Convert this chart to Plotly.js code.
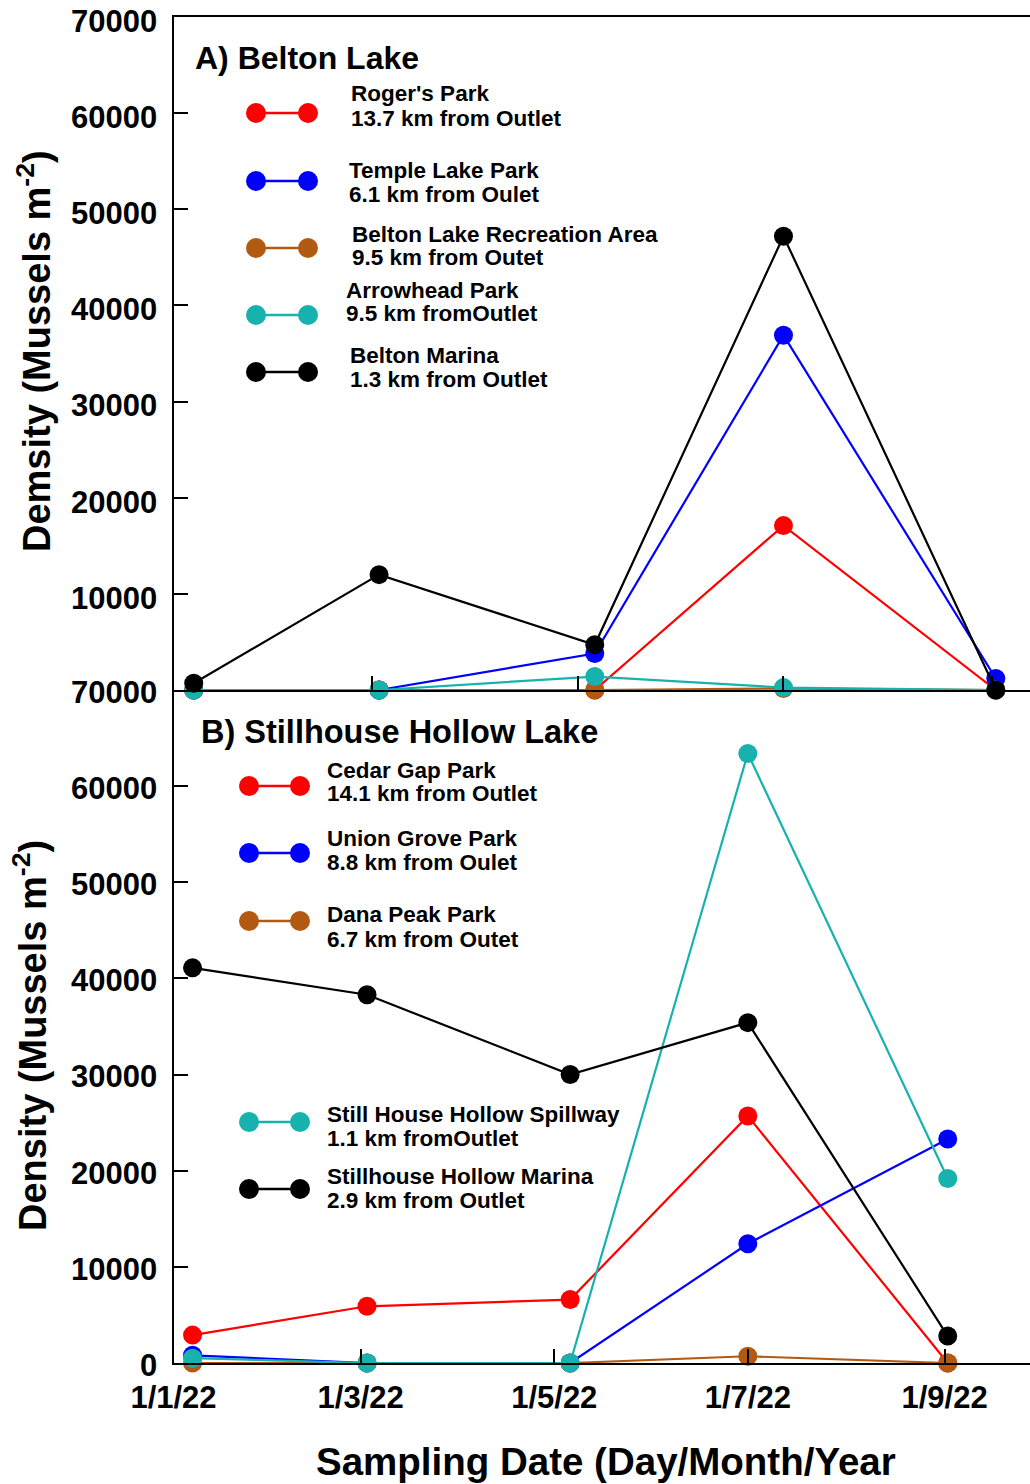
<!DOCTYPE html>
<html>
<head>
<meta charset="utf-8">
<script src="https://cdn.plot.ly/plotly-3.0.1.min.js"></script>
<style>html,body{margin:0;padding:0;background:#fff;}#chart{width:1030px;height:1484px;}</style>
</head>
<body>
<div id="chart"></div>
<script>
// ---------- data ----------
const sampleDates = ['2022-01-07', '2022-03-03', '2022-05-06', '2022-07-01', '2022-09-02'];
const tickDates = ['2022-01-01', '2022-03-01', '2022-05-01', '2022-07-01', '2022-09-01'];
const tickLabels = ['1/1/22', '1/3/22', '1/5/22', '1/7/22', '1/9/22'];
const densityTicks = [0, 10000, 20000, 30000, 40000, 50000, 60000, 70000];
const densityTicksTop = [10000, 20000, 30000, 40000, 50000, 60000, 70000];

// A) Belton Lake
const beltonSites = ["Roger's Park", 'Temple Lake Park', 'Belton Lake Recreation Area', 'Arrowhead Park', 'Belton Marina'];
const beltonDist = ['13.7 km from Outlet', '6.1 km from Oulet', '9.5 km from Outet', '9.5 km fromOutlet', '1.3 km from Outlet'];
const rogersPark = [0, 0, 0, 17100, 0];
const templeLakePark = [0, 0, 3800, 36900, 1200];
const beltonRecArea = [0, 0, 0, 150, 0];
const arrowheadPark = [0, 0, 1400, 250, 0];
const beltonMarina = [700, 12000, 4700, 47200, 0];

// B) Stillhouse Hollow Lake
const stillSites = ['Cedar Gap Park', 'Union Grove Park', 'Dana Peak Park', 'Still House Hollow Spillway', 'Stillhouse Hollow Marina'];
const stillDist = ['14.1 km from Outlet', '8.8 km from Oulet', '6.7 km from Outet', '1.1 km fromOutlet', '2.9 km from Outlet'];
const cedarGapPark = [2900, 5900, 6600, 25700, 0];
const unionGrovePark = [800, 0, 0, 12400, 23300];
const danaPeakPark = [0, 0, 0, 700, 0];
const spillway = [500, 0, 0, 63400, 19200];
const stillMarina = [41100, 38300, 30000, 35400, 2800];

const seriesColors = ['#ff0000', '#0000ff', '#b35a12', '#17b2ae', '#000000'];

// ---------- layout helpers ----------
const W = 1030, H = 1484;
const FONT = 'Liberation Sans, Arial, Helvetica, sans-serif';
const px = x => x / W;
const py = y => 1 - y / H;

const beltonSeries = [rogersPark, templeLakePark, beltonRecArea, arrowheadPark, beltonMarina];
const stillSeries = [cedarGapPark, unionGrovePark, danaPeakPark, spillway, stillMarina];

const traces = [];
beltonSeries.forEach((vals, i) => {
  traces.push({
    x: sampleDates, y: vals, xaxis: 'x2', yaxis: 'y2',
    type: 'scatter', mode: 'lines+markers', name: beltonSites[i],
    line: {color: seriesColors[i], width: 2.2},
    marker: {color: seriesColors[i], size: 19},
    cliponaxis: false, showlegend: false
  });
});
stillSeries.forEach((vals, i) => {
  traces.push({
    x: sampleDates, y: vals, xaxis: 'x', yaxis: 'y',
    type: 'scatter', mode: 'lines+markers', name: stillSites[i],
    line: {color: seriesColors[i], width: 2.2},
    marker: {color: seriesColors[i], size: 19},
    cliponaxis: false, showlegend: false
  });
});

// custom legend geometry (pixels): symbol y, text line1 y, line2 y, text x
const beltonLegendRows = [
  {sy: 113, t1: 94, t2: 118, tx: 349},
  {sy: 181, t1: 170, t2: 195, tx: 347},
  {sy: 248, t1: 234, t2: 258, tx: 350},
  {sy: 315, t1: 290, t2: 314, tx: 344},
  {sy: 372, t1: 355, t2: 379, tx: 348}
];
const stillLegendRows = [
  {sy: 786, t1: 770, t2: 793, tx: 325},
  {sy: 853, t1: 838, t2: 862, tx: 325},
  {sy: 921, t1: 915, t2: 939, tx: 325},
  {sy: 1122, t1: 1114, t2: 1138, tx: 325},
  {sy: 1189, t1: 1176, t2: 1200, tx: 325}
];

const shapes = [];
const annotations = [];
const legendFont = {size: 22.5, family: FONT, weight: 'bold', color: '#000'};
function legendEntry(row, color, name, dist, xa, xb) {
  shapes.push({type: 'line', xref: 'paper', yref: 'paper', x0: px(xa), x1: px(xb), y0: py(row.sy), y1: py(row.sy),
    line: {color: color, width: 2.5}});
  [xa, xb].forEach(xc => {
    shapes.push({type: 'circle', xref: 'paper', yref: 'paper', xsizemode: 'pixel', ysizemode: 'pixel',
      xanchor: px(xc), yanchor: py(row.sy), x0: -10, x1: 10, y0: -10, y1: 10,
      fillcolor: color, line: {width: 0}});
  });
  annotations.push({text: name, x: px(row.tx), y: py(row.t1), xref: 'paper', yref: 'paper',
    xanchor: 'left', yanchor: 'middle', showarrow: false, font: legendFont});
  annotations.push({text: dist, x: px(row.tx), y: py(row.t2), xref: 'paper', yref: 'paper',
    xanchor: 'left', yanchor: 'middle', showarrow: false, font: legendFont});
}
beltonLegendRows.forEach((r, i) => legendEntry(r, seriesColors[i], beltonSites[i], beltonDist[i], 256, 308));
stillLegendRows.forEach((r, i) => legendEntry(r, seriesColors[i], stillSites[i], stillDist[i], 249, 300));

// panel titles
annotations.push({text: 'A) Belton Lake', x: px(193), y: py(58), xref: 'paper', yref: 'paper', xanchor: 'left', yanchor: 'middle',
  showarrow: false, font: {size: 32, family: FONT, weight: 'bold', color: '#000'}});
annotations.push({text: 'B) Stillhouse Hollow Lake', x: px(199), y: py(732), xref: 'paper', yref: 'paper', xanchor: 'left', yanchor: 'middle',
  showarrow: false, font: {size: 32.5, family: FONT, weight: 'bold', color: '#000'}});

// axis titles
annotations.push({text: 'Demsity (Mussels m<sup>-2</sup>)', x: px(34), y: py(351), xref: 'paper', yref: 'paper',
  xanchor: 'center', yanchor: 'middle', textangle: -90, showarrow: false, font: {size: 38, family: FONT, weight: 'bold', color: '#000'}});
annotations.push({text: 'Density (Mussels m<sup>-2</sup>)', x: px(30), y: py(1036), xref: 'paper', yref: 'paper',
  xanchor: 'center', yanchor: 'middle', textangle: -90, showarrow: false, font: {size: 38, family: FONT, weight: 'bold', color: '#000'}});
annotations.push({text: 'Sampling Date (Day/Month/Year', x: px(606), y: py(1461), xref: 'paper', yref: 'paper',
  xanchor: 'center', yanchor: 'middle', showarrow: false, font: {size: 38.5, family: FONT, weight: 'bold', color: '#000'}});

const xDomain = [px(173.5), 1];
const bottomDomain = [(H - 1363) / H, (H - 690) / H];
const topDomain = [(H - 690) / H, (H - 17) / H];

const axisCommon = {
  showline: true, linecolor: '#000', linewidth: 2, showgrid: false, zeroline: false,
  ticks: 'inside', ticklen: 14, tickwidth: 2, tickcolor: '#000'
};
const tickFont = {size: 31, family: FONT, weight: 'bold', color: '#000'};

const layout = {
  width: W, height: H, autosize: false,
  margin: {l: 0, r: 0, t: 0, b: 0, pad: 0},
  paper_bgcolor: '#fff', plot_bgcolor: '#fff',
  font: {family: FONT, color: '#000', weight: 'bold'},
  showlegend: false,
  xaxis: Object.assign({}, axisCommon, {
    domain: xDomain, anchor: 'y', type: 'date',
    range: ['2022-01-01', '2022-09-27 22:19'],
    tickmode: 'array', tickvals: tickDates, ticktext: tickLabels,
    tickfont: tickFont, ticklabelstandoff: 6
  }),
  yaxis: Object.assign({}, axisCommon, {
    domain: bottomDomain, anchor: 'x', range: [0, 70000],
    tickmode: 'array', tickvals: densityTicks, ticktext: densityTicks.map(String),
    tickfont: tickFont, ticklabelstandoff: 8, ticklabelshift: 2
  }),
  xaxis2: Object.assign({}, axisCommon, {
    domain: xDomain, anchor: 'y2', type: 'date', mirror: true,
    range: ['2022-01-01', '2022-09-12 03:36'],
    tickmode: 'array', tickvals: tickDates, showticklabels: false
  }),
  yaxis2: Object.assign({}, axisCommon, {
    domain: topDomain, anchor: 'x2', range: [0, 70000],
    tickmode: 'array', tickvals: densityTicksTop, ticktext: densityTicksTop.map(String),
    tickfont: tickFont, ticklabelstandoff: 8, ticklabelshift: 4
  }),
  shapes: shapes,
  annotations: annotations
};

Plotly.newPlot('chart', traces, layout, {displayModeBar: false, staticPlot: true});
</script>
</body>
</html>
